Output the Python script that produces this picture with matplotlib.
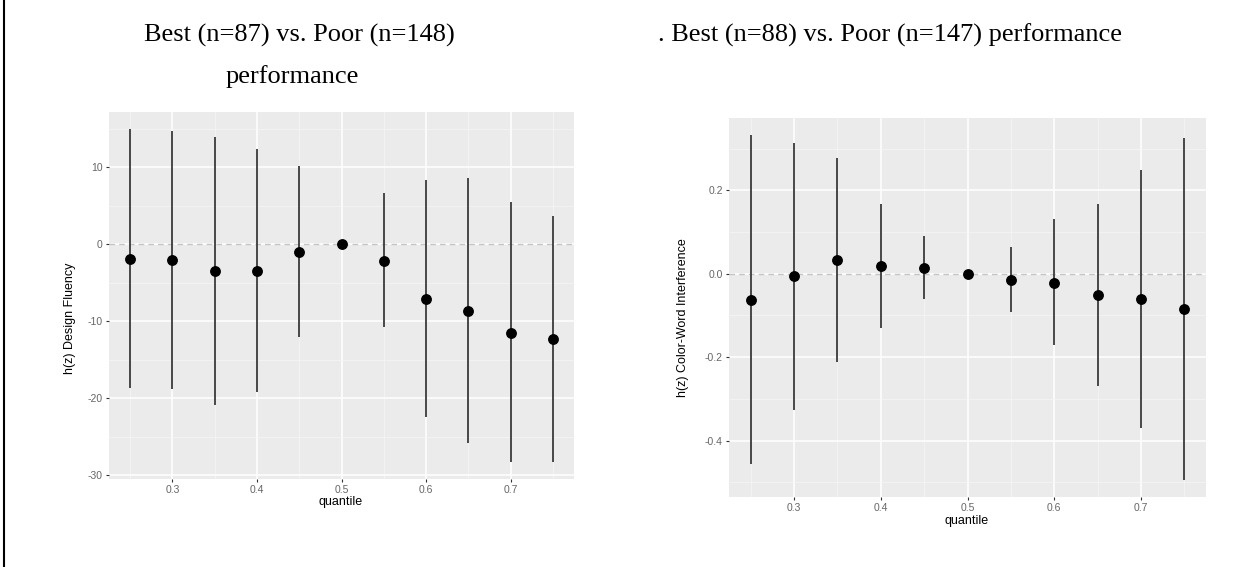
import matplotlib
matplotlib.use("Agg")
import matplotlib.pyplot as plt
import numpy as np
from matplotlib.lines import Line2D
from matplotlib.ticker import MultipleLocator

plt.rcParams['font.family'] = ['Liberation Sans', 'DejaVu Sans']

# quantile treatment effects, estimate and confidence bounds
quantiles = [0.25, 0.30, 0.35, 0.40, 0.45, 0.50, 0.55, 0.60, 0.65, 0.70, 0.75]

design_est = [-1.87, -2.09, -3.52, -3.43, -0.96, 0.0, -2.13, -7.09, -8.63, -11.5, -12.3]
design_lo = [-18.7, -18.8, -20.9, -19.2, -12.1, 0.0, -10.7, -22.4, -25.8, -28.3, -28.2]
design_hi = [15.0, 14.7, 13.9, 12.3, 10.2, 0.0, 6.6, 8.35, 8.57, 5.5, 3.65]

cw_est = [-0.0625, -0.0056, 0.033, 0.0193, 0.0137, 0.0, -0.0145, -0.0217, -0.0514, -0.061, -0.0843]
cw_lo = [-0.457, -0.326, -0.211, -0.130, -0.061, 0.0, -0.091, -0.172, -0.270, -0.370, -0.494]
cw_hi = [0.332, 0.314, 0.278, 0.167, 0.090, 0.0, 0.0635, 0.130, 0.168, 0.248, 0.326]

design_yticks = [-30, -20, -10, 0, 10]
cw_yticks = [-0.4, -0.2, 0.0, 0.2]
xticks = [0.3, 0.4, 0.5, 0.6, 0.7]

W, H = 1244, 567
fig = plt.figure(figsize=(W / 100, H / 100), dpi=100)


def px_box(x0, y0, x1, y1):
    # pixel box (top-left origin) -> figure fraction rect
    return [x0 / W, 1 - y1 / H, (x1 - x0) / W, (y1 - y0) / H]


def gg_panel(rect, est, lo, hi, yticks, ymajor, yfmt):
    ax = fig.add_axes(rect)
    ax.set_facecolor('#EBEBEB')
    for s in ax.spines.values():
        s.set_visible(False)

    # ggplot style 5% expansion
    xr = max(quantiles) - min(quantiles)
    ax.set_xlim(min(quantiles) - 0.05 * xr, max(quantiles) + 0.05 * xr)
    ymin, ymax = min(lo), max(hi)
    yr = ymax - ymin
    ax.set_ylim(ymin - 0.05 * yr, ymax + 0.05 * yr)

    ax.set_xticks(xticks)
    ax.set_xticklabels(['%.1f' % t for t in xticks])
    ax.set_yticks(yticks)
    ax.set_yticklabels([yfmt % t for t in yticks])
    ax.xaxis.set_minor_locator(MultipleLocator(0.05))
    ax.yaxis.set_minor_locator(MultipleLocator(ymajor / 2))
    ax.grid(which='major', color='white', lw=1.1)
    ax.grid(which='minor', color='#f6f6f6', lw=0.5)
    ax.set_axisbelow(True)
    ax.tick_params(which='major', length=2.5, width=0.8, color='#333333',
                   labelsize=7.5, labelcolor='#666666', pad=2)
    ax.tick_params(which='minor', length=0)

    ax.axhline(0, color='#c4c4c4', lw=1.0, ls=(0, (4, 3)), zorder=1)
    ax.vlines(quantiles, lo, hi, color='#3a3a3a', lw=1.3, zorder=2)
    ax.plot(quantiles, est, 'o', color='black', ms=6.8, zorder=3)
    return ax


ax1 = gg_panel(px_box(109, 112, 574, 479), design_est, design_lo, design_hi,
               design_yticks, 10, '%d')
ax2 = gg_panel(px_box(729, 118, 1206, 497), cw_est, cw_lo, cw_hi,
               cw_yticks, 0.2, '%.1f')

# titles
title_font = dict(family=['Liberation Serif', 'DejaVu Serif'], size=19, color='black')
fig.text(299 / W, 1 - 42 / H, 'Best (n=87) vs. Poor (n=148)', ha='center',
         va='baseline', **title_font)
fig.text(292 / W, 1 - 83 / H, 'performance', ha='center', va='baseline', **title_font)
fig.text(890 / W, 1 - 42 / H, '. Best (n=88) vs. Poor (n=147) performance',
         ha='center', va='baseline', **title_font)

# axis titles
lab = dict(size=9, color='black')
fig.text(70 / W, 1 - 318 / H, 'h(z) Design Fluency', rotation=90,
         ha='center', va='center', **lab)
fig.text(341 / W, 1 - 502 / H, 'quantile', ha='center', va='center', **lab)
fig.text(683 / W, 1 - 318 / H, 'h(z) Color-Word Interference', rotation=90,
         ha='center', va='center', **lab)
fig.text(967 / W, 1 - 521 / H, 'quantile', ha='center', va='center', **lab)

# page border on the left
fig.add_artist(Line2D([4 / W, 4 / W], [0, 1], color='black', lw=1.5,
                      transform=fig.transFigure))

fig.savefig('out.png', dpi=100)
